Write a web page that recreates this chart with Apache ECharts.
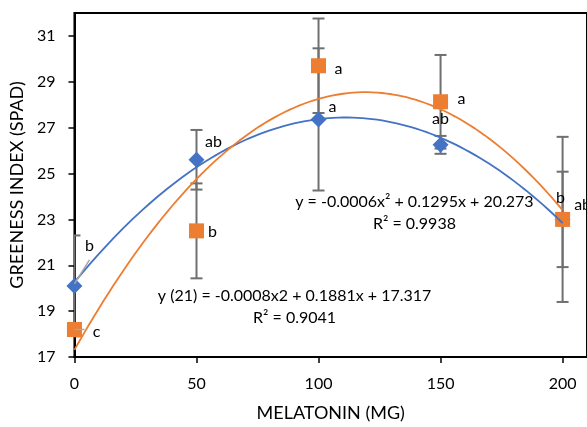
<!DOCTYPE html>
<html><head><meta charset="utf-8">
<script src="https://cdn.jsdelivr.net/npm/echarts@6/dist/echarts.min.js"></script>
<style>html,body{margin:0;padding:0;background:#fff}#c{width:587px;height:427px}</style>
</head><body><div id="c"></div>
<script>
// ---- data ----
const doses = [0, 50, 100, 150, 200];
const seriesBlue = [20.1, 25.6, 27.36, 26.25, 23.0];
const errBlue = [2.2, 1.3, 3.1, 0.39, 2.08];
const lettersBlue = ['b', 'ab', 'a', 'ab', 'b'];
const seriesOrange = [18.2, 22.5, 29.7, 28.13, 23.0];
const errOrange = [0.2, 2.07, 2.06, 2.04, 3.6];
const lettersOrange = ['c', 'b', 'a', 'a', 'ab'];
const yTicks = [17, 19, 21, 23, 25, 27, 29, 31];
const xTicks = [0, 50, 100, 150, 200];
const eqBlue = ['y = -0.0006x² + 0.1295x + 20.273', 'R² = 0.9938'];
const eqOrange = ['y (21) = -0.0008x2 + 0.1881x + 17.317', 'R² = 0.9041'];
const xName = 'MELATONIN (MG)';
const yName = 'GREENESS INDEX (SPAD)';

// ---- styling / placement config ----
const BLUE = '#4472C4', ORANGE = '#ED7D31', GRAY = '#6f6f6f';
const FONT = 'Lato, "Open Sans", sans-serif';
const blueLabelOffset = [[15, -40], [17, -18], [14, -13], [0, -26], [-2, -22]];
const orangeLabelOffset = [[22, 2], [16, 1], [20, 3], [21, -3], [20, -15]];
const eqBlueAnchor = [139.3, 23.27];
const eqOrangeAnchor = [90.2, 19.18];

// least squares quadratic trendline (as Excel does)
function fitQuad(xs, ys) {
  let S = [0,0,0,0,0], T = [0,0,0];
  xs.forEach((x, i) => { let p = 1; for (let k = 0; k < 5; k++) { S[k] += p; if (k < 3) T[k] += p * ys[i]; p *= x; } });
  const A = [[S[0],S[1],S[2],T[0]],[S[1],S[2],S[3],T[1]],[S[2],S[3],S[4],T[2]]];
  for (let i = 0; i < 3; i++) {
    for (let j = i + 1; j < 3; j++) { const f = A[j][i] / A[i][i]; for (let k = i; k < 4; k++) A[j][k] -= f * A[i][k]; }
  }
  const c = [0,0,0];
  for (let i = 2; i >= 0; i--) { let s = A[i][3]; for (let k = i + 1; k < 3; k++) s -= A[i][k] * c[k]; c[i] = s / A[i][i]; }
  return c;
}
function trend(xs, ys) {
  const c = fitQuad(xs, ys), pts = [];
  for (let x = xs[0]; x <= xs[xs.length - 1] + 1e-9; x += 2) pts.push([x, c[0] + c[1] * x + c[2] * x * x]);
  return pts;
}

function errorSeries(vals, errs) {
  return {
    type: 'custom', z: 2, clip: true,
    data: doses.map((d, i) => [d, vals[i], errs[i]]),
    renderItem: function (params, api) {
      const x = api.value(0), y = api.value(1), e = api.value(2);
      const hi = api.coord([x, y + e]), lo = api.coord([x, y - e]);
      const w = 6, st = { stroke: GRAY, lineWidth: 2 };
      return { type: 'group', children: [
        { type: 'line', shape: { x1: hi[0], y1: hi[1], x2: lo[0], y2: lo[1] }, style: st },
        { type: 'line', shape: { x1: hi[0] - w, y1: hi[1], x2: hi[0] + w, y2: hi[1] }, style: st },
        { type: 'line', shape: { x1: lo[0] - w, y1: lo[1], x2: lo[0] + w, y2: lo[1] }, style: st }
      ]};
    }
  };
}

function pointSeries(vals, letters, offsets, color, symbol, size, z) {
  return {
    type: 'scatter', z: z, symbol: symbol, symbolSize: size,
    itemStyle: { color: color, opacity: 1 },
    data: doses.map((d, i) => ({
      value: [d, vals[i]],
      label: { show: true, position: 'inside', offset: offsets[i], formatter: letters[i],
               color: '#000', fontSize: 16, fontFamily: FONT }
    })),
    emphasis: { disabled: true }
  };
}

// leader lines from point to label (pixel offsets from the point)
const leaders = [
  { series: 'blue', idx: 0, path: [[0, -2], [15, -26]] },
  { series: 'orange', idx: 0, path: [[0, 0], [10, 0]] }
];

const chart = echarts.init(document.getElementById('c'), null, { renderer: 'canvas' });
const option = {
  animation: false,
  backgroundColor: '#fff',
  textStyle: { fontFamily: FONT },
  grid: { left: 72, right: -2, top: 13, bottom: 66, show: true, borderColor: '#000', borderWidth: 2, backgroundColor: 'transparent' },
  xAxis: {
    type: 'value', min: 0, max: 210,
    name: xName, nameLocation: 'middle', nameGap: 47,
    nameTextStyle: { fontSize: 18, color: '#000', fontFamily: FONT },
    axisLine: { show: true, lineStyle: { color: '#000', width: 2 } },
    axisTick: { show: true, length: 6, lineStyle: { color: '#000', width: 1.5 }, customValues: xTicks },
    axisLabel: { fontSize: 16, color: '#000', margin: 19, customValues: xTicks, fontFamily: FONT },
    splitLine: { show: false }
  },
  yAxis: {
    type: 'value', min: 17, max: 32,
    name: yName, nameLocation: 'middle', nameGap: 47,
    nameTextStyle: { fontSize: 18, color: '#000', fontFamily: FONT },
    axisLine: { show: true, lineStyle: { color: '#000', width: 2 } },
    axisTick: { show: true, length: 6, lineStyle: { color: '#000', width: 1.5 }, customValues: yTicks },
    axisLabel: { fontSize: 16, color: '#000', margin: 19, customValues: yTicks, fontFamily: FONT },
    splitLine: { show: false }
  },
  series: [
    errorSeries(seriesBlue, errBlue),
    errorSeries(seriesOrange, errOrange),
    pointSeries(seriesBlue, lettersBlue, blueLabelOffset, BLUE, 'diamond', 16, 4),
    pointSeries(seriesOrange, lettersOrange, orangeLabelOffset, ORANGE, 'rect', 15, 5),
    { type: 'line', z: 6, data: trend(doses, seriesBlue), showSymbol: false, symbol: 'none',
      lineStyle: { color: BLUE, width: 1.8 }, silent: true },
    { type: 'line', z: 6, data: trend(doses, seriesOrange), showSymbol: false, symbol: 'none',
      lineStyle: { color: ORANGE, width: 1.8 }, silent: true },
    {
      type: 'custom', z: 7,
      data: leaders.map(l => [doses[l.idx], (l.series === 'blue' ? seriesBlue : seriesOrange)[l.idx]]),
      renderItem: function (params, api) {
        const p = api.coord([api.value(0), api.value(1)]);
        const path = leaders[params.dataIndex].path.map(o => [p[0] + o[0], p[1] + o[1]]);
        return { type: 'polyline', shape: { points: path }, style: { stroke: '#a6a6a6', lineWidth: 1.5, fill: null } };
      }
    }
  ]
};
chart.setOption(option);

function eqGraphic(lines, anchor) {
  const p = chart.convertToPixel({ gridIndex: 0 }, anchor);
  return { type: 'text', x: p[0], y: p[1], z: 10,
    style: { text: lines.join('\n'), align: 'center', verticalAlign: 'middle', fill: '#000',
             font: '16px ' + FONT, lineHeight: 22 } };
}
chart.setOption({ graphic: [eqGraphic(eqBlue, eqBlueAnchor), eqGraphic(eqOrange, eqOrangeAnchor)] });
</script>
</body></html>
